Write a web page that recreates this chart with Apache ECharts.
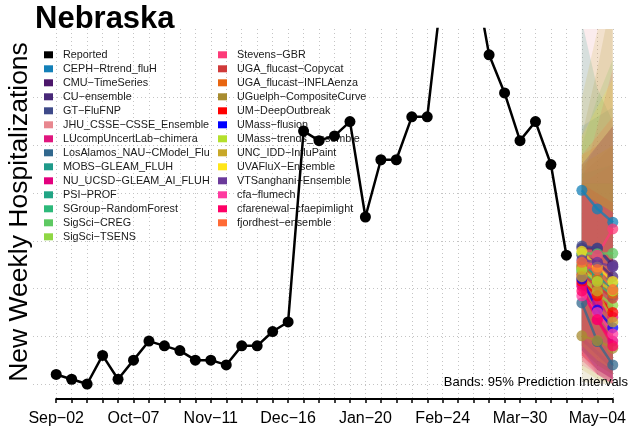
<!DOCTYPE html>
<html>
<head>
<meta charset="utf-8">
<title>Nebraska</title>
<script src="https://cdn.jsdelivr.net/npm/echarts@6/dist/echarts.min.js"></script>
<style>
  html, body { margin: 0; padding: 0; background: #fff; }
  #main { width: 629px; height: 434px; }
</style>
</head>
<body>
<div id="main"></div>
<script>
// week labels (Saturdays), index 0 = Sep-02
var weeks = ['Sep−02','Sep−09','Sep−16','Sep−23','Sep−30','Oct−07','Oct−14','Oct−21','Oct−28',
  'Nov−04','Nov−11','Nov−18','Nov−25','Dec−02','Dec−09','Dec−16','Dec−23','Dec−30',
  'Jan−06','Jan−13','Jan−20','Jan−27','Feb−03','Feb−10','Feb−17','Feb−24',
  'Mar−02','Mar−09','Mar−16','Mar−23','Mar−30','Apr−06','Apr−13','Apr−20','Apr−27','May−04','May−11'];

var reported = [2,1,0,6,1,5,9,8,7,5,5,4,8,8,11,13,53,51,52,55,35,47,47,56,56,84,92,87,69,61,51,55,46,27];

// forecast target weeks (index into weeks)
var fcWeeks = [34, 35, 36];

var modelNames = ['CEPH−Rtrend_fluH','CMU−TimeSeries','CU−ensemble','GT−FluFNP','JHU_CSSE−CSSE_Ensemble',
  'LUcompUncertLab−chimera','LosAlamos_NAU−CModel_Flu','MOBS−GLEAM_FLUH','NU_UCSD−GLEAM_AI_FLUH','PSI−PROF',
  'SGroup−RandomForest','SigSci−CREG','SigSci−TSENS','Stevens−GBR','UGA_flucast−Copycat','UGA_flucast−INFLAenza',
  'UGuelph−CompositeCurve','UM−DeepOutbreak','UMass−flusion','UMass−trends_ensemble','UNC_IDD−InfluPaint',
  'UVAFluX−Ensemble','VTSanghani−Ensemble','cfa−flumech','cfarenewal−cfaepimlight','fjordhest−ensemble'];

var modelColors = ['#1380b8','#4c176b','#482878','#3e4a89','#e8878f','#e0157e','#31688e','#1f9a8a','#e3007e','#21a585',
  '#2db97a','#5ec962','#8fd744','#fd3a78','#d03a3a','#e86510','#a88c30','#ff0000','#0000ff','#b4e02c',
  '#c8a828','#ffe619','#6b3a9a','#ff3aa0','#ff0066','#ff6a35'];

var medians = [[40.6,36.7,33.9],[28.5,28.4,25.0],[27.0,25.5,22.5],[28.9,28.5,24.6],[24.5,22.0,19.5],
  [21.0,17.0,14.0],[17.0,8.9,4.0],[24.0,23.0,21.0],[20.5,13.5,9.0],[25.0,22.5,20.0],
  [23.5,21.0,18.5],[27.4,27.3,27.4],[22.0,19.0,16.5],[22.5,27.0,32.5],[23.0,20.5,18.0],[24.6,22.0,19.0],
  [10.1,9.1,7.5],[21.5,18.5,15.0],[22.0,15.5,11.8],[24.0,21.5,19.5],[22.5,19.5,13.0],
  [27.8,24.5,21.5],[26.0,25.5,24.6],[18.5,15.0,10.5],[19.5,13.5,8.0],[25.5,24.0,19.8]];

var lower95 = [[26,20,15],[10,7,4],[9,6,3],[12,8,5],[5,2,1],[6,3,1],[8,2,0],[7,4,2],[6,2,0],[9,6,3],
  [8,5,2],[10,8,6],[7,4,2],[8,9,10],[6,3,1],[7,4,2],[0.5,0,0],[6,3,1],[7,3,1],[8,5,3],
  [3,1,0],[10,7,4],[9,6,3],[4,2,0],[5,2,0],[8,5,3]];

var upper95 = [[54,56,58],[45,50,54],[44,47,50],[46,50,54],[85,88,90],[42,44,46],[30,24,18],[76,62,55],[40,38,36],[44,45,46],
  [42,42,42],[50,60,68],[42,42,42],[42,54,66],[46,48,50],[48,50,54],[52,66,82],[42,40,38],[40,38,36],[46,48,50],
  [60,74,88],[52,58,64],[46,50,54],[40,38,36],[40,38,36],[48,52,56]];

var FONT = 'Liberation Sans, Arial, sans-serif';
var yMin = -3.14, yMax = 74.4;

var chart = echarts.init(document.getElementById('main'));

var series = [];

// 95% bands, one polygon per model, placed through the axis scales
series.push({
  type: 'custom', name: 'bands', xAxisIndex: 1, yAxisIndex: 1, clip: true, silent: true, z: 1,
  data: modelNames.map(function (n, k) { return [k]; }),
  encode: { x: 0, y: 0 },
  renderItem: function (params, api) {
    var k = api.value(0);
    var pts = [];
    fcWeeks.forEach(function (w, j) { pts.push(api.coord([w, upper95[k][j]])); });
    for (var j = fcWeeks.length - 1; j >= 0; j--) pts.push(api.coord([fcWeeks[j], lower95[k][j]]));
    return { type: 'polygon', shape: { points: pts }, style: { fill: modelColors[k], opacity: 0.16 } };
  },
  animation: false
});

series.push({
  type: 'line', name: 'Reported', xAxisIndex: 1, yAxisIndex: 1,
  data: reported.map(function (v, i) { return [i, v]; }),
  color: '#000', symbol: 'circle', symbolSize: 11,
  lineStyle: { width: 2.5, color: '#000' }, itemStyle: { color: '#000' }, z: 5, animation: false
});

modelNames.forEach(function (nm, k) {
  series.push({
    type: 'line', name: nm, xAxisIndex: 1, yAxisIndex: 1,
    data: fcWeeks.map(function (w, j) { return [w, medians[k][j]]; }),
    color: modelColors[k], symbol: 'circle', symbolSize: 11,
    lineStyle: { width: 2.5, opacity: 0.75 }, itemStyle: { opacity: 0.75 }, z: 4, animation: false
  });
});

function legendItems(names) {
  return names.map(function (nm) {
    var k = modelNames.indexOf(nm);
    var c = k < 0 ? '#000' : modelColors[k];
    return { name: nm, icon: 'rect', itemStyle: { color: c, opacity: 1, borderWidth: 0 } };
  });
}
var legendStyle = {
  orient: 'vertical', padding: 0, itemGap: 0, itemWidth: 9, itemHeight: 7,
  selectedMode: false, z: 1,
  textStyle: { fontFamily: FONT, fontSize: 10.8, color: '#1a1a1a', lineHeight: 14, padding: [0, 0, 0, 5] }
};

chart.setOption({
  backgroundColor: '#fff',
  title: {
    text: 'Nebraska', left: 35, top: 4, padding: 0,
    textStyle: { fontFamily: FONT, fontSize: 31, fontWeight: 'bold', color: '#000' }
  },
  legend: [
    Object.assign({ left: 44, top: 47.8, data: legendItems(['Reported'].concat(modelNames.slice(0, 13))) }, legendStyle),
    Object.assign({ left: 218, top: 47.8, data: legendItems(modelNames.slice(13)) }, legendStyle)
  ],
  grid: [
    { left: 33, right: 0, top: 97.6, bottom: 50 },
    { left: 56.2, right: 15.5, top: 29, bottom: 35 }
  ],
  xAxis: [
    { gridIndex: 0, type: 'value', min: 0, max: 1, show: false },
    {
      gridIndex: 1, type: 'value', min: 0, max: 36, interval: 1, position: 'bottom',
      axisLine: { onZero: false, lineStyle: { color: '#000', width: 2 } },
      axisTick: { length: 4, lineStyle: { color: '#000', width: 1.5 } },
      axisLabel: {
        margin: 12, fontFamily: FONT, fontSize: 16, color: '#000',
        formatter: function (v) { return v % 5 === 0 ? weeks[v] : ''; }
      },
      splitLine: { show: true, lineStyle: { color: '#c4c4c4', type: [1, 3], width: 1 } }
    }
  ],
  yAxis: [
    {
      gridIndex: 0, type: 'value', min: 0, max: 60, interval: 10,
      axisLine: { show: false }, axisTick: { show: false }, axisLabel: { show: false },
      splitLine: { show: true, lineStyle: { color: '#c4c4c4', type: [1, 3], width: 1 } }
    },
    { gridIndex: 1, type: 'value', min: yMin, max: yMax, show: false, splitLine: { show: false } }
  ],
  graphic: [
    {
      type: 'text', x: 20, y: 212, rotation: Math.PI / 2,
      style: { text: 'New Weekly Hospitalizations', font: '26.5px ' + FONT, fill: '#000',
        textAlign: 'center', textVerticalAlign: 'middle' }
    },
    {
      type: 'text', x: 628, y: 382, z: 10,
      style: { text: 'Bands: 95% Prediction Intervals', font: '13px ' + FONT, fill: '#000',
        textAlign: 'right', textVerticalAlign: 'middle' }
    }
  ],
  series: series
});
</script>
</body>
</html>
